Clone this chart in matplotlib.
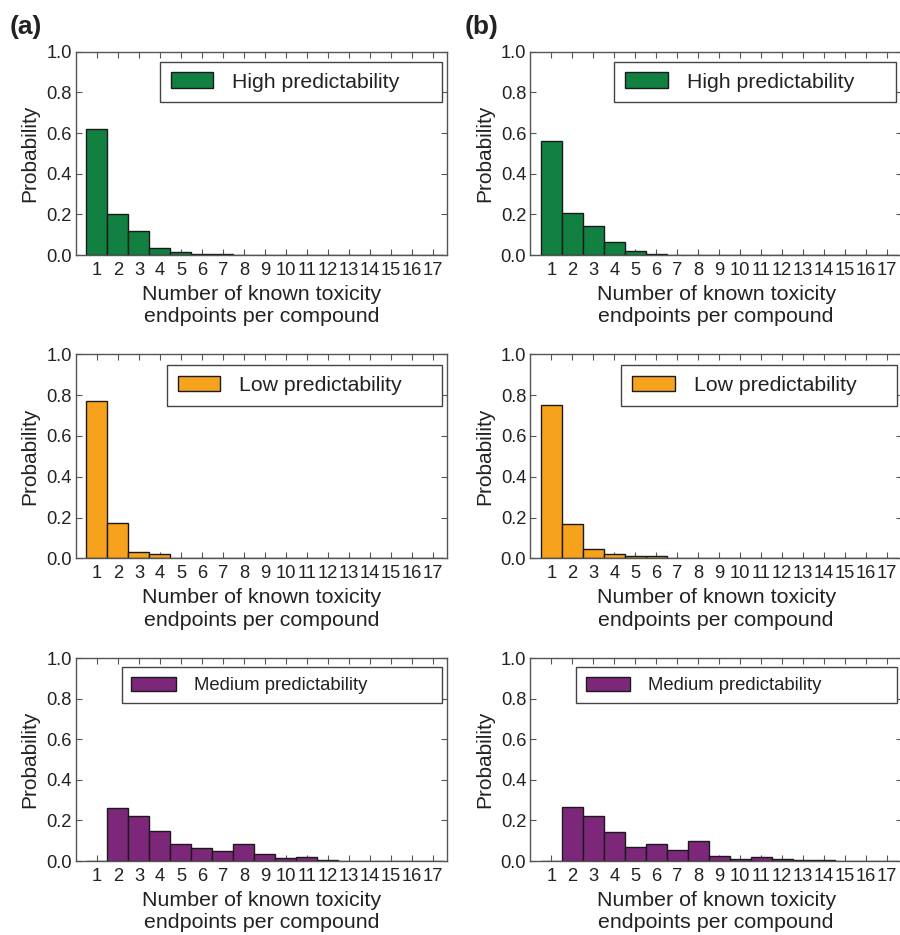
import matplotlib
matplotlib.use("Agg")
import matplotlib.pyplot as plt
import numpy as np

plt.rcParams['font.family'] = ['Liberation Sans', 'DejaVu Sans']

endpoints = list(range(1, 18))
tick_labels = [str(i) for i in endpoints]

high_a = [0.62, 0.20, 0.12, 0.032, 0.015, 0.006, 0.003, 0.001, 0, 0, 0, 0, 0, 0, 0, 0, 0]
high_b = [0.56, 0.205, 0.145, 0.065, 0.018, 0.003, 0, 0, 0, 0, 0, 0, 0, 0, 0, 0, 0]
low_a = [0.77, 0.175, 0.033, 0.019, 0.0, 0.003, 0, 0, 0, 0, 0, 0, 0, 0, 0, 0, 0]
low_b = [0.75, 0.17, 0.045, 0.022, 0.01, 0.009, 0, 0, 0, 0, 0, 0, 0, 0, 0, 0, 0]
med_a = [0.002, 0.26, 0.22, 0.15, 0.085, 0.063, 0.047, 0.082, 0.033, 0.017, 0.02, 0.004, 0.002, 0.001, 0.001, 0, 0]
med_b = [0.002, 0.265, 0.22, 0.145, 0.068, 0.083, 0.055, 0.097, 0.025, 0.012, 0.018, 0.008, 0.004, 0.004, 0, 0, 0]

series_names = ["High predictability", "Low predictability", "Medium predictability"]
colors = ["#118040", "#F7A21C", "#7C277A"]

W, H = 900, 935
fig = plt.figure(figsize=(W / 100, H / 100), dpi=100)

col_x = [(76, 447.4), (530.4, 901.8)]
row_y = [(51.7, 255), (354.3, 558.3), (658.3, 861)]

data = [[high_a, high_b], [low_a, low_b], [med_a, med_b]]

# legend boxes in pixel coordinates relative to axes (left offset, top offset, right offset, height)
leg_px = [(84, 10, 5.5, 40), (91, 11, 5, 39), (46, 9, 5, 40)]
leg_fs = [15.3, 15.3, 13.3]
leg_hl = [2.0, 2.0, 2.4]
leg_hh = [0.75, 0.75, 0.8]
leg_tp = [0.9, 0.9, 1.0]

for r in range(3):
    for c in range(2):
        x0, x1 = col_x[c]
        yt, yb = row_y[r]
        aw, ah = x1 - x0, yb - yt
        ax = fig.add_axes([x0 / W, 1 - yb / H, aw / W, ah / H])
        vals = data[r][c]
        ax.bar(endpoints, vals, width=1.0, color=colors[r], edgecolor='#1a1a1a',
               linewidth=1.0, label=series_names[r], zorder=2)
        ax.set_xlim(0.0, 17.7)
        ax.set_ylim(0, 1.0)
        ax.set_xticks(endpoints)
        ax.set_xticklabels(tick_labels)
        ax.set_yticks([0, 0.2, 0.4, 0.6, 0.8, 1.0])
        ax.set_yticklabels(["0.0", "0.2", "0.4", "0.6", "0.8", "1.0"])
        ax.tick_params(axis='both', direction='in', top=True, right=True,
                       labelsize=13.2, length=4, width=0.8, color='#555555', pad=3,
                       labelcolor='#222222')
        ax.tick_params(axis='x', pad=5)
        for s in ax.spines.values():
            s.set_color('#555555')
            s.set_linewidth(1.0)
            s.set_zorder(3)
        ax.set_ylabel("Probability", fontsize=15, labelpad=5, color='#222222')
        ax.set_xlabel("Number of known toxicity\nendpoints per compound", fontsize=15.4,
                      labelpad=4, linespacing=1.25, color='#222222')
        lx, ly, rx, lh = leg_px[r]
        bx0 = lx / aw
        bw = (aw - rx - lx) / aw
        btop = 1 - ly / ah
        bh = lh / ah
        leg = ax.legend(loc='upper left', bbox_to_anchor=(bx0, btop - bh, bw, bh),
                        mode='expand', borderaxespad=0.0, fontsize=leg_fs[r],
                        fancybox=False, framealpha=1, edgecolor='#444444',
                        borderpad=0.5, handlelength=leg_hl[r], handleheight=leg_hh[r],
                        handletextpad=leg_tp[r])
        leg.get_frame().set_linewidth(1.0)
        for t in leg.get_texts():
            t.set_color('#222222')

fig.text(10 / W, 1 - 27 / H, "(a)", fontsize=19, fontweight='bold', va='center', ha='left',
         color='#222222')
fig.text(465 / W, 1 - 27 / H, "(b)", fontsize=19, fontweight='bold', va='center', ha='left',
         color='#222222')

fig.savefig("out.png", dpi=100)
